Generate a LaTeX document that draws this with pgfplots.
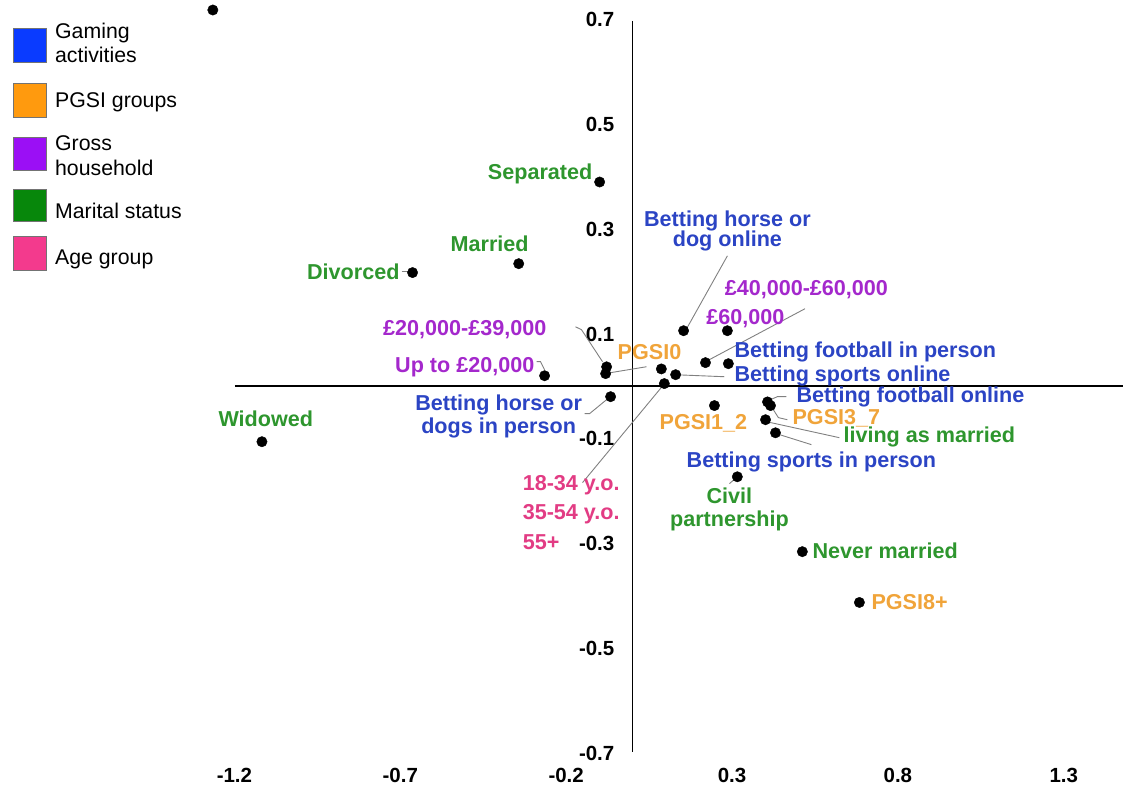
\documentclass[border=0pt]{standalone}
\usepackage{pgfplots}
\pgfplotsset{compat=1.18}
\usepackage{fontspec}
\setmainfont{Liberation Sans}

% label colours by variable group
\definecolor{cGame}{HTML}{2B44C4}
\definecolor{cPGSI}{HTML}{F0A43A}
\definecolor{cInc}{HTML}{A428CC}
\definecolor{cMar}{HTML}{2E962E}
\definecolor{cAge}{HTML}{E23C84}
% legend swatches
\definecolor{lGame}{HTML}{0A3BFF}
\definecolor{lPGSI}{HTML}{FF9A0E}
\definecolor{lInc}{HTML}{9B0FF5}
\definecolor{lMar}{HTML}{07870B}
\definecolor{lAge}{HTML}{F33A8D}

\tikzset{
  lab/.style={font=\bfseries\fontsize{21.6}{24}\selectfont, inner sep=0pt, text height=15.4pt, text depth=0pt},
  leg/.style={font=\fontsize{21.3}{24}\selectfont, inner sep=0pt, text height=15pt, text depth=0pt, anchor=west},
  lead/.style={black!50, line width=0.9pt},
}

\begin{document}
\begin{tikzpicture}
\begin{axis}[
  at={(0pt,0pt)}, anchor=north west,
  scale only axis, width=1124pt, height=787pt,
  xmin=-1.9066, xmax=1.4789, ymin=-0.7643, ymax=0.7376,
  axis line style={draw=none},
  tick style={draw=none},
  xtick={-1.2,-0.7,-0.2,0.3,0.8,1.3},
  xticklabels={-1.2,-0.7,-0.2,0.3,0.8,1.3},
  ytick={-0.7,-0.5,-0.3,-0.1,0.1,0.3,0.5,0.7},
  yticklabels={-0.7,-0.5,-0.3,-0.1,0.1,0.3,0.5,0.7},
  xticklabel style={anchor=center, yshift=11pt, inner sep=0pt,
    font=\bfseries\fontsize{20.5}{24}\selectfont, text height=14.6pt, text depth=0pt},
  yticklabel style={anchor=east, xshift=615pt, inner sep=0pt,
    font=\bfseries\fontsize{20.5}{24}\selectfont, text height=14.6pt, text depth=0pt},
  clip=false,
]
% axes through the origin
\addplot[black, line width=1.8pt] coordinates {(0,0.6975) (0,-0.6994)};
\addplot[black, line width=1.8pt] coordinates {(-1.1988,0) (1.4789,0)};

% leader lines
\addplot[lead] coordinates {(-0.6958,0.2185) (-0.6777,0.2185)};
\addplot[lead] coordinates {(-0.2892,0.0468) (-0.2771,0.0468) (-0.265,0.0315)};
\addplot[lead] coordinates {(-0.1717,0.1135) (-0.1536,0.1078) (-0.0904,0.0468)};
\addplot[lead] coordinates {(0.0422,0.0372) (-0.0663,0.0258)};
\addplot[lead] coordinates {(0.2861,0.2490) (0.1596,0.1059)};
\addplot[lead] coordinates {(0.5200,0.1480) (0.2259,0.0487)};
\addplot[lead] coordinates {(0.1295,0.0219) (0.2771,0.0181)};
\addplot[lead] coordinates {(0.4157,-0.0258) (0.4367,-0.0200) (0.4639,-0.0200)};
\addplot[lead] coordinates {(0.4187,-0.0391) (0.4398,-0.0600) (0.4669,-0.0640)};
\addplot[lead] coordinates {(0.4036,-0.0677) (0.6235,-0.0983)};
\addplot[lead] coordinates {(0.4337,-0.0906) (0.5392,-0.1116)};
\addplot[lead] coordinates {(0.3133,-0.1746) (0.2922,-0.1861)};
\addplot[lead] coordinates {(-0.1506,-0.1842) (0.0964,0.0048)};
\addplot[lead] coordinates {(-0.1446,-0.0525) (-0.1295,-0.0525) (-0.0783,-0.0258)};

% category coordinates
\addplot[only marks, mark=*, mark size=5.2pt, black] coordinates {
  (-1.265,0.7185)
  (-0.099,0.390)   % Separated
  (-0.343,0.234)   % Married
  (-0.663,0.217)   % Divorced
  (-1.117,-0.106)  % Widowed
  (-0.265,0.020)   % Up to 20,000
  (-0.078,0.037)   % 20,000-39,000
  (-0.081,0.024)   % PGSI0
  (-0.066,-0.020)  % horse or dogs in person
  (0.154,0.106)    % horse or dog online
  (0.286,0.106)    % 60,000
  (0.220,0.045)    % 40,000-60,000
  (0.289,0.043)    % football in person
  (0.087,0.033)    % age group
  (0.130,0.022)    % sports online
  (0.096,0.005)    % age group
  (0.247,-0.037)   % PGSI1_2
  (0.407,-0.030)   % football online
  (0.416,-0.037)   % PGSI3_7
  (0.401,-0.064)   % living as married
  (0.431,-0.089)   % sports in person
  (0.316,-0.173)   % Civil partnership
  (0.512,-0.316)   % Never married
  (0.684,-0.413)   % PGSI8+
};

% labels
\node[lab, cMar, anchor=east] at (axis cs:-0.1205,0.4093) {Separated};
\node[lab, cMar] at (axis cs:-0.4307,0.2719) {Married};
\node[lab, cMar, anchor=east] at (axis cs:-0.7018,0.2185) {Divorced};
\node[lab, cMar] at (axis cs:-1.1054,-0.0620) {Widowed};
\node[lab, cInc, anchor=east] at (axis cs:-0.2952,0.0410) {Up to £20,000};
\node[lab, cInc, anchor=east] at (axis cs:-0.259,0.1116) {£20,000-£39,000};
\node[lab, cPGSI] at (axis cs:0.0512,0.0658) {PGSI0};
\node[lab, cGame] at (axis cs:0.2861,0.3197) {Betting horse or};
\node[lab, cGame] at (axis cs:0.2861,0.2815) {dog online};
\node[lab, cInc] at (axis cs:0.5241,0.1880) {£40,000-£60,000};
\node[lab, cInc] at (axis cs:0.3404,0.1326) {£60,000};
\node[lab, cGame, anchor=west] at (axis cs:0.3072,0.0697) {Betting football in person};
\node[lab, cGame, anchor=west] at (axis cs:0.3072,0.0239) {Betting sports online};
\node[lab, cGame, anchor=west] at (axis cs:0.494,-0.0162) {Betting football online};
\node[lab, cPGSI, anchor=west] at (axis cs:0.4819,-0.0580) {PGSI3\_7};
\node[lab, cMar, anchor=west] at (axis cs:0.6355,-0.0935) {living as married};
\node[lab, cGame, anchor=west] at (axis cs:0.1627,-0.1403) {Betting sports in person};
\node[lab, cPGSI] at (axis cs:0.2139,-0.0677) {PGSI1\_2};
\node[lab, cMar] at (axis cs:0.2922,-0.2090) {Civil};
\node[lab, cMar] at (axis cs:0.2922,-0.2529) {partnership};
\node[lab, cAge, anchor=west] at (axis cs:-0.3313,-0.1842) {18-34 y.o.};
\node[lab, cAge, anchor=west] at (axis cs:-0.3313,-0.2395) {35-54 y.o.};
\node[lab, cAge, anchor=west] at (axis cs:-0.3313,-0.2968) {55+};
\node[lab, cMar, anchor=west] at (axis cs:0.5422,-0.3139) {Never married};
\node[lab, cPGSI, anchor=west] at (axis cs:0.7199,-0.4113) {PGSI8+};
\node[lab, cGame] at (axis cs:-0.4036,-0.0315) {Betting horse or};
\node[lab, cGame] at (axis cs:-0.4036,-0.0754) {dogs in person};
\end{axis}

% legend
\begin{scope}[x=1pt, y=-1pt]
  \draw[fill=lGame, draw=black!55, line width=0.8pt] (13,28) rectangle (46,62);
  \node[leg] at (55,31) {Gaming};
  \node[leg] at (55,55) {activities};
  \draw[fill=lPGSI, draw=black!55, line width=0.8pt] (13,83) rectangle (46,117);
  \node[leg] at (55,100) {PGSI groups};
  \draw[fill=lInc, draw=black!55, line width=0.8pt] (13,138) rectangle (46,171);
  \node[leg] at (55,143) {Gross};
  \node[leg] at (55,168) {household};
  \draw[fill=lMar, draw=black!55, line width=0.8pt] (13,190) rectangle (46,222);
  \node[leg] at (55,211) {Marital status};
  \draw[fill=lAge, draw=black!55, line width=0.8pt] (13,237) rectangle (46,271);
  \node[leg] at (55,257) {Age group};
\end{scope}
\end{tikzpicture}
\end{document}
